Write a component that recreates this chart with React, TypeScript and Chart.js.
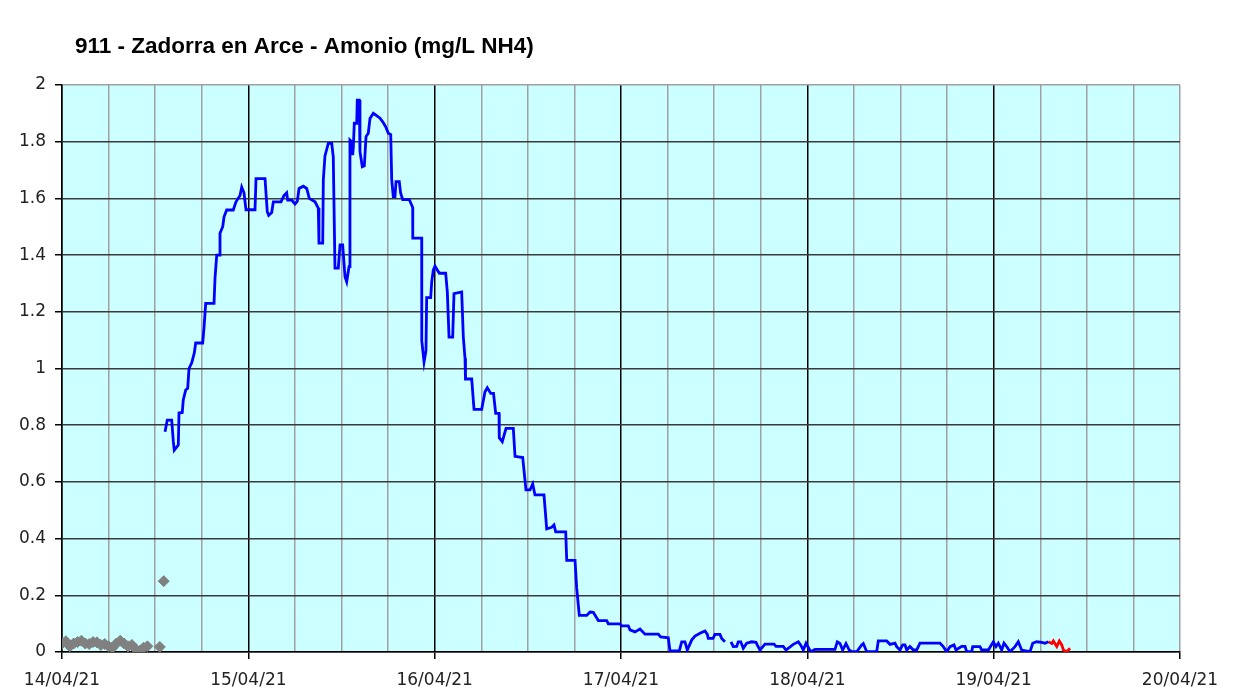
import React, { useEffect, useRef } from "react";
import { Chart, registerables } from "chart.js";

Chart.register(...registerables);

const chartTitle = "911 - Zadorra en Arce - Amonio (mg/L NH4)";
const dayLabels = ["14/04/21", "15/04/21", "16/04/21", "17/04/21", "18/04/21", "19/04/21", "20/04/21"];

// hours since 14/04/21 00:00
const grayHours = [0, 0.5, 1, 1.5, 2, 2.5, 3, 3.5, 4, 4.5, 5, 5.5, 6, 6.5, 7, 7.5, 8, 8.5, 9, 9.5, 10, 10.5, 11, 12.6, 13.1];
const grayValues = [0.03, 0.038, 0.02, 0.03, 0.035, 0.04, 0.03, 0.028, 0.035, 0.034, 0.025, 0.028, 0.02, 0.015, 0.03, 0.04, 0.03, 0.02, 0.025, 0.01, 0.004, 0.015, 0.02, 0.018, 0.25];

const blueHours = [
  13.27, 13.56, 14.13, 14.34, 14.46, 14.98, 15.07, 15.49, 15.62, 15.93, 16.19, 16.36, 16.71, 17.04, 17.22, 18.12, 18.29, 18.51, 19.58, 19.71,
  19.93, 20.26, 20.35, 20.7, 20.87, 21.21, 22.06, 22.41, 22.93, 23.15, 23.44, 23.7, 24.86, 24.99, 26.15, 26.44, 26.62, 27.01, 27.22, 28.21,
  28.59, 28.94, 29.07, 29.59, 30.01, 30.31, 30.53, 31.08, 31.52, 31.85, 32.59, 33.01, 33.1, 33.58, 33.66, 33.87, 34.3, 34.74, 34.94, 35.16,
  35.59, 35.81, 36.15, 36.45, 36.67, 36.97, 37.09, 37.31, 37.44, 37.52, 37.65, 37.96, 38.03, 38.29, 38.38, 38.68, 38.94, 39.16, 39.45, 39.67,
  40.1, 40.61, 40.96, 41.31, 41.69, 42.03, 42.34, 42.47, 42.67, 42.89, 43.02, 43.44, 43.62, 43.88, 44.73, 45.17, 45.18, 46.33, 46.34, 46.63,
  46.88, 46.97, 47.49, 47.62, 47.82, 48.04, 48.6, 49.42, 49.63, 49.85, 50.32, 50.49, 51.48, 51.69, 51.91, 51.97, 52.77, 53.07, 54.06, 54.48,
  54.78, 55.22, 55.58, 55.86, 56.29, 56.32, 56.71, 57.19, 58.13, 58.35, 59.34, 59.76, 60.28, 60.63, 60.92, 62.08, 62.43, 63.07, 63.37, 63.59,
  64.88, 65.01, 66.08, 66.29, 66.63, 67.58, 68.01, 68.43, 69.08, 70.16, 70.37, 71.87, 72.09, 72.94, 73.16, 73.8, 74.45, 75.09, 76.8, 77.11,
  78.09, 78.31, 79.51, 79.82, 80.24, 80.54, 81.1, 81.53, 82.17, 82.82, 83.12, 83.24, 83.85, 84.11, 84.75, 84.97, 85.39, 85.8, 86.17, 86.46,
  86.9, 87.11, 87.42, 87.75, 88.19, 88.83, 89.39, 89.56, 89.9, 90.55, 91.71, 91.97, 92.9, 93.25, 94.19, 94.84, 95.15, 95.48, 95.83, 96.43,
  96.99, 99.56, 99.86, 100.21, 100.55, 100.98, 101.4, 101.71, 102.36, 103.0, 103.21, 103.65, 104.93, 105.14, 106.22, 106.65, 107.29, 107.51, 107.93, 108.28,
  108.58, 108.8, 109.22, 109.65, 110.08, 110.51, 113.09, 113.51, 113.95, 114.38, 114.89, 115.15, 115.88, 116.31, 116.53, 117.17, 117.3, 118.24, 118.46, 119.31,
  119.96, 120.3, 120.6, 121.03, 121.33, 121.68, 122.1, 122.75, 123.17, 123.61, 124.68, 125.03, 125.54, 126.19, 126.61, 127.04,
];
const blueValues = [
  0.777, 0.818, 0.818, 0.742, 0.712, 0.73, 0.843, 0.845, 0.889, 0.924, 0.93, 1.0, 1.02, 1.055, 1.09, 1.09, 1.143, 1.23, 1.23, 1.32,
  1.4, 1.4, 1.477, 1.5, 1.535, 1.559, 1.559, 1.588, 1.61, 1.64, 1.62, 1.56, 1.56, 1.67, 1.67, 1.553, 1.54, 1.55, 1.588, 1.588,
  1.61, 1.62, 1.594, 1.594, 1.58, 1.59, 1.635, 1.643, 1.635, 1.6, 1.588, 1.566, 1.442, 1.442, 1.665, 1.75, 1.794, 1.794, 1.747, 1.354,
  1.354, 1.436, 1.436, 1.324, 1.306, 1.359, 1.806, 1.8, 1.753, 1.78, 1.865, 1.865, 1.947, 1.947, 1.765, 1.712, 1.715, 1.818, 1.83, 1.882,
  1.9, 1.89, 1.883, 1.87, 1.853, 1.83, 1.825, 1.665, 1.606, 1.606, 1.659, 1.659, 1.618, 1.596, 1.596, 1.568, 1.46, 1.46, 1.098, 1.023,
  1.063, 1.25, 1.25, 1.305, 1.347, 1.361, 1.336, 1.336, 1.27, 1.111, 1.111, 1.264, 1.27, 1.111, 1.036, 0.963, 0.963, 0.856, 0.856, 0.918,
  0.932, 0.912, 0.912, 0.842, 0.842, 0.756, 0.742, 0.789, 0.789, 0.69, 0.686, 0.572, 0.572, 0.593, 0.554, 0.554, 0.434, 0.44, 0.448, 0.424,
  0.424, 0.323, 0.323, 0.226, 0.129, 0.129, 0.141, 0.14, 0.111, 0.111, 0.099, 0.099, 0.092, 0.092, 0.078, 0.071, 0.081, 0.063, 0.063, 0.053,
  0.05, 0.004, 0.004, 0.036, 0.036, 0.007, 0.042, 0.056, 0.066, 0.074, 0.062, 0.048, 0.048, 0.062, 0.062, 0.048, 0.036, null, 0.036, 0.019,
  0.02, 0.036, 0.036, 0.013, 0.031, 0.036, 0.034, 0.024, 0.007, 0.028, 0.028, 0.02, 0.02, 0.007, 0.027, 0.036, 0.024, 0.007, 0.031, 0.001,
  0.009, 0.009, 0.036, 0.03, 0.007, 0.03, 0.007, 0.001, 0.001, 0.025, 0.03, 0.001, 0.001, 0.039, 0.039, 0.027, 0.031, 0.019, 0.007, 0.025,
  0.025, 0.007, 0.019, 0.007, 0.007, 0.031, 0.031, 0.019, 0.001, 0.019, 0.025, 0.007, 0.02, 0.02, 0.001, 0.001, 0.019, 0.019, 0.007, 0.007,
  0.036, 0.019, 0.031, 0.007, 0.031, 0.019, 0.001, 0.019, 0.036, 0.007, 0.001, 0.031, 0.036, 0.034, 0.031, 0.036,
];

const redHours = [127.04, 127.48, 127.69, 128.13, 128.46, 128.77, 128.98, 129.42, 129.84];
const redValues = [0.036, 0.03, 0.039, 0.019, 0.039, 0.025, 0.007, 0.001, 0.013];

const toXY = (xs: number[], ys: (number | null)[]) => xs.map((x, i) => ({ x, y: ys[i] }));

const tickFont = { family: "'DejaVu Sans', Verdana, sans-serif", size: 17 };

const bgPlugin = {
  id: "plotBg",
  beforeDraw(chart: any) {
    const { ctx, chartArea } = chart;
    ctx.save();
    ctx.fillStyle = "#CCFFFF";
    ctx.fillRect(chartArea.left, chartArea.top, chartArea.right - chartArea.left, chartArea.bottom - chartArea.top);
    ctx.restore();
  },
  afterDraw(chart: any) {
    const { ctx, chartArea } = chart;
    ctx.save();
    ctx.fillStyle = "#000";
    ctx.font = "bold 22.5px 'Liberation Sans', Arial, sans-serif";
    ctx.textBaseline = "middle";
    ctx.textAlign = "left";
    ctx.fillText(chartTitle, chartArea.left + 13, chartArea.top - 38);
    ctx.restore();
  },
};

export default function App() {
  const ref = useRef<HTMLCanvasElement>(null);
  useEffect(() => {
    if (!ref.current) return;
    const chart = new Chart(ref.current, {
      type: "line",
      data: {
        datasets: [
          {
            label: "gray",
            data: toXY(grayHours, grayValues),
            showLine: false,
            pointStyle: "rectRot",
            pointRadius: 5.5,
            pointBackgroundColor: "#808080",
            pointBorderColor: "#808080",
            borderColor: "#808080",
          },
          {
            label: "blue",
            data: toXY(blueHours, blueValues),
            borderColor: "#0000FF",
            borderWidth: 2.8,
            pointRadius: 0,
            spanGaps: false,
            tension: 0,
          },
          {
            label: "red",
            data: toXY(redHours, redValues),
            borderColor: "#FF0000",
            borderWidth: 2.8,
            pointRadius: 0,
            tension: 0,
          },
        ],
      },
      options: {
        animation: false,
        responsive: false,
        layout: { padding: { top: 85, right: 61, left: 0, bottom: 0 } },
        plugins: { legend: { display: false }, tooltip: { enabled: false }, title: { display: false } },
        scales: {
          x: {
            type: "linear",
            min: 0,
            max: 144,
            afterBuildTicks: (scale: any) => {
              const t = [];
              for (let h = 0; h <= 144; h += 6) t.push({ value: h });
              scale.ticks = t;
            },
            afterFit: (scale: any) => {
              scale.height = 43;
            },
            ticks: {
              autoSkip: false,
              maxRotation: 0,
              padding: 11,
              color: "#222",
              font: tickFont,
              callback: (v: any) => (Number(v) % 24 === 0 ? dayLabels[Number(v) / 24] : ""),
            },
            grid: {
              color: (c: any) => {
                const v = c.tick ? c.tick.value : 0;
                if (v === 144) return "#a0a0a0";
                return v % 24 === 0 ? "#000000" : "#a0a0a0";
              },
              tickColor: (c: any) => (c.tick && c.tick.value % 24 === 0 ? "#000000" : "rgba(0,0,0,0)"),
              lineWidth: 1.5,
              tickLength: 7,
            },
            border: { color: "#000", width: 1.5 },
          },
          y: {
            min: 0,
            max: 2,
            afterFit: (scale: any) => {
              scale.width = 62;
            },
            ticks: {
              stepSize: 0.2,
              padding: 9,
              color: "#222",
              font: tickFont,
              callback: (v: any) => String(Number(Number(v).toFixed(1))),
            },
            grid: {
              color: (c: any) => (c.tick && c.tick.value === 2 ? "#a0a0a0" : "#3a3a3a"),
              tickColor: "#000",
              lineWidth: 1.5,
              tickLength: 7,
            },
            border: { color: "#000", width: 1.5 },
          },
        },
      },
      plugins: [bgPlugin],
    });
    return () => chart.destroy();
  }, []);
  return (
    <div style={{ position: "absolute", left: 0, top: 0, width: 1241, height: 695, background: "#fff" }}>
      <canvas ref={ref} width={1241} height={695} style={{ display: "block" }} />
    </div>
  );
}
